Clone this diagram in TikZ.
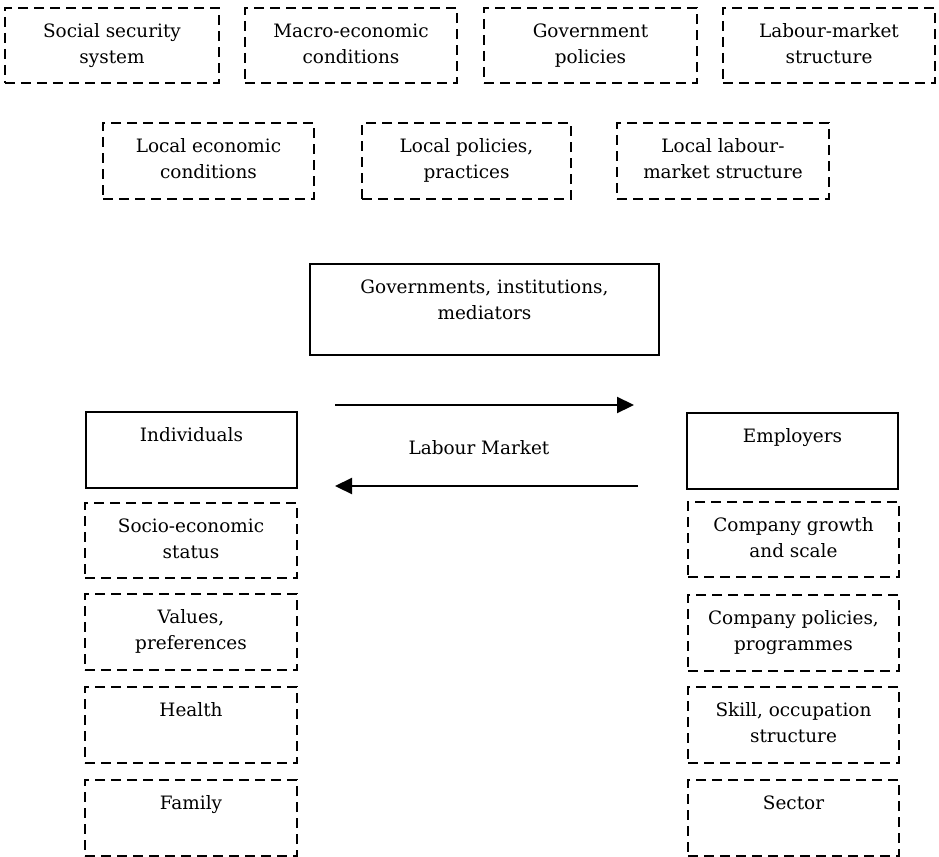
\documentclass[tikz,border=0pt]{standalone}
\usepackage{fontspec}
\setmainfont{DejaVu Serif}
\usetikzlibrary{arrows.meta}
\tikzset{
  dbox/.style={draw, line width=2.2bp, dash pattern=on 10bp off 6bp, inner sep=0pt, outer sep=0pt},
  sbox/.style={draw, line width=2.2bp, inner sep=0pt, outer sep=0pt},
  txt/.style={anchor=north, inner sep=0pt, align=center, font=\fontsize{18.5}{26}\selectfont},
  flow/.style={line width=2.2bp, -{Triangle[length=17bp,width=16bp]}}
}
% name, style, x1, y1, x2, y2, text
\newcommand\mkbox[7]{%
  \node[#2, minimum width=#5bp-#3bp, minimum height=#6bp-#4bp] (#1) at ({(#3+#5)/2},{(#4+#6)/2}) {};
  \node[txt] (#1-t) at ([yshift=-10.8bp]#1.north) {\strut #7};
}
\begin{document}
\begin{tikzpicture}[x=1bp,y=-1bp]
\useasboundingbox (0,0) rectangle (939,857);
% top row
\mkbox{ss}{dbox}{5}{8}{219}{83}{Social security\\system}
\mkbox{me}{dbox}{245}{8}{457}{83}{Macro-economic\\conditions}
\mkbox{gp}{dbox}{484}{8}{697}{83}{Government\\policies}
\mkbox{lm}{dbox}{723}{8}{935}{83}{Labour-market\\structure}
% second row
\mkbox{le}{dbox}{103}{123}{314}{199}{Local economic\\conditions}
\mkbox{lp}{dbox}{362}{123}{571}{199}{Local policies,\\practices}
\mkbox{ll}{dbox}{617}{123}{829}{199}{Local labour-\\market structure}
% centre
\mkbox{gov}{sbox}{310}{264}{659}{355}{Governments, institutions,\\mediators}
\mkbox{ind}{sbox}{86}{412}{297}{488}{Individuals}
\mkbox{emp}{sbox}{687}{413}{898}{489}{Employers}
% left column
\mkbox{ses}{dbox}{85}{503}{297}{578}{Socio-economic\\status}
\mkbox{val}{dbox}{85}{594}{297}{670}{Values,\\preferences}
\mkbox{hea}{dbox}{85}{687}{297}{763}{Health}
\mkbox{fam}{dbox}{85}{780}{297}{856}{Family}
% right column
\mkbox{cgs}{dbox}{688}{502}{899}{577}{Company growth\\and scale}
\mkbox{cpp}{dbox}{688}{595}{899}{671}{Company policies,\\programmes}
\mkbox{soc}{dbox}{688}{687}{899}{763}{Skill, occupation\\structure}
\mkbox{sec}{dbox}{688}{780}{899}{856}{Sector}
% labour market
\node[font=\fontsize{18.5}{26}\selectfont, inner sep=0pt] (lab) at (479,448) {Labour Market};
\coordinate (a1s) at (335,405);
\coordinate (a1e) at (634,405);
\coordinate (a2s) at (638,486);
\coordinate (a2e) at (335,486);
\draw[flow] (a1s) -- (a1e);
\draw[flow] (a2s) -- (a2e);
\end{tikzpicture}
\end{document}
